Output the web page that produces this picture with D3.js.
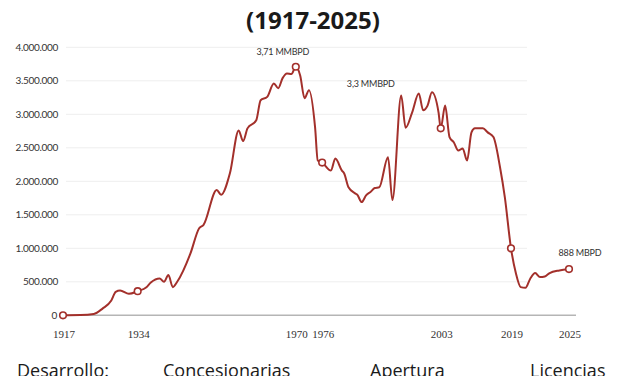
<!DOCTYPE html>
<html>
<head>
<meta charset="utf-8">
<script src="https://cdn.jsdelivr.net/npm/d3@7"></script>
<style>
    body { margin: 0; background: #fff; overflow: hidden; }
    svg { display: block; }
</style>
</head>
<body>
<div id="chart"></div>
<script>
    // produccion (barriles diarios)
    const years = [
        1917, 1921, 1924, 1926, 1928, 1929, 1930, 1932, 1934, 1936, 1937, 1939, 1940, 1941, 1942, 1943,
        1946, 1948, 1949, 1952, 1953, 1955, 1957, 1958, 1959, 1961, 1962, 1963.5, 1965, 1966, 1967, 1968,
        1969, 1970, 1971, 1972, 1973, 1974.4, 1975, 1976, 1978, 1979, 1980.5, 1981, 1982, 1983.5, 1984,
        1985, 1986, 1987, 1988, 1989, 1991, 1992, 1994, 1995, 1996.5, 1998, 1999, 2000, 2001, 2002.5,
        2003, 2004, 2005, 2006, 2007, 2008, 2009, 2010, 2010.8, 2012.6, 2013.7, 2015, 2016.5, 2017.6,
        2019, 2019.5, 2020, 2020.5, 2021, 2021.5, 2022, 2022.5, 2023, 2024, 2025
    ];
    const production = [
        0, 3000, 20000, 100000, 220000, 350000, 370000, 320000, 360000, 420000, 490000, 550000, 500000, 600000, 420000, 500000,
        920000, 1300000, 1350000, 1870000, 1800000, 2120000, 2760000, 2600000, 2790000, 2910000, 3210000, 3260000, 3460000, 3390000, 3540000, 3610000,
        3600000, 3710000, 3580000, 3240000, 3360000, 2800000, 2310000, 2280000, 2160000, 2340000, 2160000, 2120000, 1910000, 1820000, 1800000,
        1690000, 1790000, 1840000, 1900000, 1910000, 2360000, 1720000, 3280000, 2800000, 3030000, 3310000, 3060000, 3130000, 3330000, 3030000,
        2790000, 3130000, 2660000, 2580000, 2460000, 2490000, 2310000, 2730000, 2790000, 2790000, 2730000, 2660000, 2210000, 1760000,
        1000000, 630000, 420000, 410000, 550000, 630000, 570000, 580000, 630000, 670000, 690000
    ];

    const tickYears = [1917, 1934, 1970, 1976, 2003, 2019, 2025];
    const yTicks = [0, 500000, 1000000, 1500000, 2000000, 2500000, 3000000, 3500000, 4000000];
    const notes = [
        { year: 1970, text: "3,71 MMBPD", dx: -13, dy: -12 },
        { year: 1998, text: "3,3 MMBPD", dx: -48, dy: -7 },
        { year: 2025, text: "888 MBPD", dx: 11, dy: -13 }
    ];
    const bottomLabels = [
        { text: "Desarrollo:", x: 17 },
        { text: "Concesionarias", x: 163 },
        { text: "Apertura", x: 370 },
        { text: "Licencias", x: 530 }
    ];

    const width = 627;
    const height = 376;
    const red = "#a3302b";

    const valueAt = y => production[years.indexOf(y)];

    // el eje x del original se estira despues de 2019
    const x = d3.scaleLinear()
        .domain([1917, 2019, 2025])
        .range([63, 511, 569]);

    const y = d3.scaleLinear()
        .domain([0, 4000000])
        .range([315.3, 47.3]);

    const fmt = d3.formatLocale({ decimal: ",", thousands: ".", grouping: [3], currency: ["", ""] }).format(",d");

    const svg = d3.select("#chart")
        .append("svg")
        .attr("width", width)
        .attr("height", height);

    svg.append("text")
        .attr("x", 313)
        .attr("y", 29)
        .attr("text-anchor", "middle")
        .style("font-family", "'Open Sans', sans-serif")
        .style("font-weight", "bold")
        .style("font-size", "24px")
        .style("fill", "#1a1a1a")
        .text("(1917-2025)");

    // lineas de cuadricula
    svg.append("g")
        .selectAll("line")
        .data(yTicks.filter(d => d > 0))
        .enter().append("line")
        .attr("x1", 66)
        .attr("x2", 527)
        .attr("y1", d => y(d))
        .attr("y2", d => y(d))
        .attr("stroke", "#eeeeee")
        .attr("stroke-width", 1);

    svg.append("line")
        .attr("x1", 63)
        .attr("x2", 576)
        .attr("y1", y(0))
        .attr("y2", y(0))
        .attr("stroke", "#b5b5b5")
        .attr("stroke-width", 1.5);

    svg.append("g")
        .selectAll("text")
        .data(yTicks)
        .enter().append("text")
        .attr("x", d => d === 0 ? 57 : 58)
        .attr("y", d => y(d) + 3.5)
        .attr("text-anchor", "end")
        .style("font-family", "Lato, sans-serif")
        .style("font-size", "10px")
        .style("letter-spacing", "-0.3px")
        .style("fill", "#333")
        .text(d => fmt(d));

    svg.append("g")
        .selectAll("text")
        .data(tickYears)
        .enter().append("text")
        .attr("x", d => x(d) + 1)
        .attr("y", 338)
        .attr("text-anchor", "middle")
        .style("font-family", "'Liberation Serif', serif")
        .style("font-size", "11px")
        .style("fill", "#333")
        .text(d => d);

    const line = d3.line()
        .x((d, i) => x(years[i]))
        .y(d => y(d))
        .curve(d3.curveMonotoneX);

    svg.append("path")
        .datum(production)
        .attr("d", line)
        .attr("fill", "none")
        .attr("stroke", red)
        .attr("stroke-width", 2)
        .attr("stroke-linejoin", "round");

    svg.append("g")
        .selectAll("circle")
        .data(tickYears)
        .enter().append("circle")
        .attr("cx", d => x(d))
        .attr("cy", d => y(valueAt(d)))
        .attr("r", 3.3)
        .attr("fill", "#fff")
        .attr("stroke", red)
        .attr("stroke-width", 1.6);

    svg.append("g")
        .selectAll("text")
        .data(notes)
        .enter().append("text")
        .attr("x", d => x(d.year) + d.dx)
        .attr("y", d => y(valueAt(d.year)) + d.dy)
        .attr("text-anchor", d => d.year === 2025 ? "middle" : "middle")
        .style("font-family", "Lato, sans-serif")
        .style("font-size", "9px")
        .style("letter-spacing", "-0.2px")
        .style("fill", "#333")
        .text(d => d.text);

    svg.append("g")
        .selectAll("text")
        .data(bottomLabels)
        .enter().append("text")
        .attr("x", d => d.x)
        .attr("y", 377)
        .style("font-family", "'Open Sans', sans-serif")
        .style("font-size", "18px")
        .style("fill", "#1a1a1a")
        .text(d => d.text);
</script>
</body>
</html>
